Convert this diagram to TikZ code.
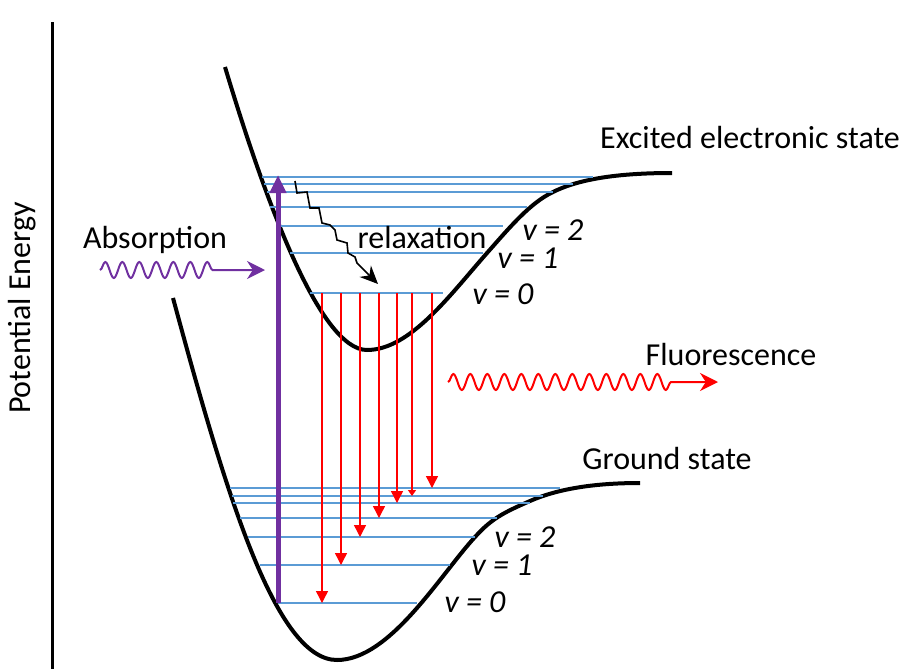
\documentclass[tikz,border=0pt]{standalone}
\usepackage{fontspec}
\setmainfont{Carlito}
\usetikzlibrary{arrows.meta,decorations.pathmorphing}
\definecolor{levelblue}{HTML}{5B9BD5}
\definecolor{abspurple}{HTML}{7030A0}
\tikzset{
	curve/.style={line width=2pt},
	level/.style={levelblue, line width=1.4pt},
	emission/.style={red, line width=0.7pt, -{Triangle[length=6pt,width=6pt]}},
	photon/.style={line width=1pt, decorate,
		decoration={snake, amplitude=4pt, segment length=8.5pt, post length=#1}},
	lbl/.style={font=\fontsize{16}{19}\selectfont},
	vlbl/.style={font=\fontsize{16}{19}\selectfont\itshape},
}
\begin{document}
\begin{tikzpicture}[x=0.5pt, y=-0.5pt]
	\useasboundingbox (0,0) rectangle (903,669);
	% axe
	\draw[line width=1.5pt] (52,22) -- (52,669);
	\node[lbl, rotate=90] (axis) at (22,308) {Potential Energy};
	% courbes
	\draw[curve] (225,67) .. controls (265,200) and (320,350) .. (367,350)
		.. controls (410,350) and (450,295) .. (487,253)
		.. controls (510,227) and (530,203) .. (553,192)
		.. controls (575,181) and (610,173) .. (672,173);
	\draw[curve] (173,298) .. controls (225,490) and (275,660) .. (337,660)
		.. controls (390,660) and (440,575) .. (475,537)
		.. controls (492,518) and (505,512) .. (530,501)
		.. controls (555,490) and (590,483) .. (640,483);
	% niveaux excites
	\draw[level] (262,177) -- (593,177);
	\draw[level] (264,184) -- (573,184);
	\draw[level] (267,192) -- (553,192);
	\draw[level] (270,207) -- (527,207);
	\draw[level] (280,226) -- (503,226);
	\draw[level] (290,253) -- (483,253);
	\draw[level] (310,293) -- (443,293);
	% niveaux fondamentaux
	\draw[level] (230,488) -- (560,488);
	\draw[level] (232,496) -- (543,496);
	\draw[level] (233,503) -- (530,503);
	\draw[level] (240,518) -- (497,518);
	\draw[level] (248,537) -- (475,537);
	\draw[level] (260,565) -- (450,565);
	\draw[level] (278,603) -- (417,603);
	% absorption
	\draw[abspurple, line width=2.5pt, -{Triangle[length=9pt,width=8pt]}] (278,603) -- (278,175);
	\draw[abspurple, photon=22pt, -{Stealth[length=9pt,width=9pt]}] (100,270) -- (265,270);
	\node[lbl] (absorption) at (155,240) {Absorption};
	% relaxation
	\draw[line width=0.8pt, -{Stealth[length=9pt,width=8pt]}] (295,181) -- (297,193) -- (307,192) -- (310,208)
		-- (319,208) -- (322,223) -- (330,225) -- (335,230) -- (337,240) -- (347,243)
		-- (348,253) -- (355,257) -- (357,263) -- (378,284);
	\node[lbl] (relaxation) at (422,238) {relaxation};
	% fluorescence
	\draw[emission] (322,293) -- (322,603);
	\draw[emission] (341,293) -- (341,565);
	\draw[emission] (360,293) -- (360,537);
	\draw[emission] (379,293) -- (379,518);
	\draw[emission] (397,293) -- (397,503);
	\draw[red, line width=0.7pt, -{Triangle[length=3pt,width=4pt]}] (412,293) -- (412,496);
	\draw[emission] (432,293) -- (432,488);
	\draw[red, photon=22pt, -{Stealth[length=9pt,width=9pt]}] (448,382) -- (718,382);
	\node[lbl] (fluorescence) at (731,355) {Fluorescence};
	% etiquettes
	\node[lbl] (excited) at (750,138) {Excited electronic state};
	\node[lbl] (ground) at (667,458) {Ground state};
	\node[vlbl] (ev2) at (553,230) {v = 2};
	\node[vlbl] (ev1) at (528,258) {v = 1};
	\node[vlbl] (ev0) at (503,294) {v = 0};
	\node[vlbl] (gv2) at (525,537) {v = 2};
	\node[vlbl] (gv1) at (502,565) {v = 1};
	\node[vlbl] (gv0) at (475,602) {v = 0};
\end{tikzpicture}
\end{document}
